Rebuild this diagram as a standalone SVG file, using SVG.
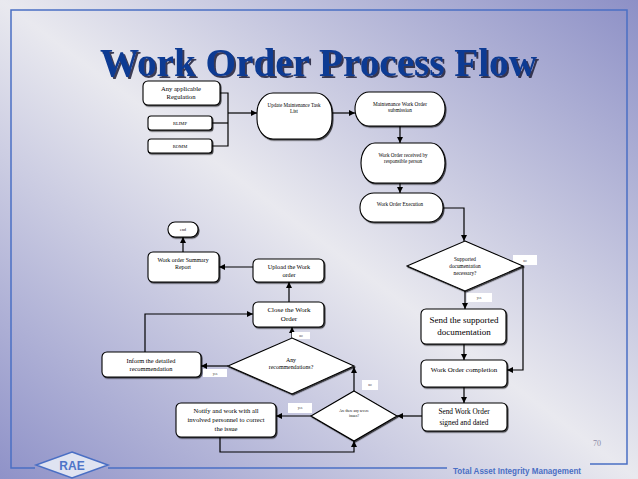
<svg xmlns="http://www.w3.org/2000/svg" width="638" height="479" viewBox="0 0 638 479">
<defs>
<linearGradient id="bg" x1="0" y1="1" x2="1" y2="0">
<stop offset="0" stop-color="#8f92c8"/>
<stop offset="0.5" stop-color="#e9e9ef"/>
<stop offset="1" stop-color="#8d90c6"/>
</linearGradient>
<marker id="ah" markerWidth="6" markerHeight="6" refX="6" refY="3" orient="auto" markerUnits="userSpaceOnUse">
<path d="M0,0 L6,3 L0,6 z" fill="#000"/>
</marker>
<filter id="sh" x="-10%" y="-10%" width="130%" height="140%">
<feDropShadow dx="1" dy="1.2" stdDeviation="0.4" flood-color="#000" flood-opacity="0.7"/>
</filter>
<filter id="tsh" x="-5%" y="-20%" width="110%" height="150%">
<feDropShadow dx="2" dy="2" stdDeviation="0.3" flood-color="#1c1c3a" flood-opacity="0.85"/>
</filter>
</defs>
<style>
.n{fill:#fff;stroke:#000;stroke-width:1.1;filter:url(#sh)}
.t{font-family:"Liberation Serif","Times New Roman",serif;fill:#000;text-anchor:middle}
.c{fill:none;stroke:#000;stroke-width:1.2}
.a{marker-end:url(#ah)}
.lb{fill:#fff;stroke:none}
.lt{font-family:"Liberation Serif",serif;font-size:3.5px;fill:#333;text-anchor:middle}
.frame{fill:none;stroke:#4a6fc4;stroke-width:1.5}
</style>
<rect width="638" height="479" fill="url(#bg)"/>
<g id="frame">
<polyline class="frame" points="35,468 11,468 11,10 627,10 627,464 590,464"/>
<line class="frame" x1="108" y1="468" x2="447" y2="468"/>
</g>
<g id="title">
<text x="100" y="76" font-family="'Liberation Serif','Times New Roman',serif" font-weight="bold" font-size="39" fill="#0c3a93" textLength="437" lengthAdjust="spacingAndGlyphs" filter="url(#tsh)">Work Order Process Flow</text>
</g>
<g id="connectors">
<polyline class="c" points="220,93 228,93 228,146 212,146"/>
<line class="c" x1="212" y1="123" x2="228" y2="123"/>
<line class="c a" x1="228" y1="113" x2="257" y2="113"/>
<line class="c a" x1="332" y1="113" x2="355" y2="113"/>
<line class="c a" x1="400" y1="126" x2="400" y2="143"/>
<line class="c a" x1="400" y1="183" x2="400" y2="193"/>
<polyline class="c a" points="443,208 464,208 464,241"/>
<polyline class="c a" points="523,266 523,370 507,370"/>
<line class="c a" x1="465" y1="291" x2="465" y2="309"/>
<line class="c a" x1="464" y1="344" x2="464" y2="360"/>
<line class="c a" x1="464" y1="387" x2="464" y2="403"/>
<line class="c a" x1="422" y1="416" x2="397" y2="416"/>
<line class="c a" x1="354" y1="391" x2="354" y2="367"/>
<line class="c a" x1="311" y1="416" x2="276" y2="416"/>
<polyline class="c a" points="220,437 220,452 354,452 354,441"/>
<line class="c a" x1="228" y1="366" x2="201" y2="366"/>
<line class="c a" x1="292" y1="338" x2="292" y2="327"/>
<polyline class="c a" points="145,352 145,314 253,314"/>
<line class="c a" x1="289" y1="302" x2="289" y2="282"/>
<line class="c a" x1="253" y1="267" x2="219" y2="267"/>
<line class="c a" x1="183" y1="252" x2="183" y2="237"/>
<rect class="lb" x="513" y="255" width="24" height="10"/><text class="lt" x="525" y="261.5">no</text>
<rect class="lb" x="467" y="293" width="25" height="9"/><text class="lt" x="479" y="299">yes</text>
<rect class="lb" x="362" y="380" width="16" height="10"/><text class="lt" x="370" y="386">no</text>
<rect class="lb" x="288" y="403" width="24" height="10"/><text class="lt" x="300" y="409">yes</text>
<rect class="lb" x="203" y="369" width="24" height="8"/><text class="lt" x="215" y="374.5">yes</text>
<rect class="lb" x="292" y="332" width="18" height="7"/><text class="lt" x="301" y="337">no</text>
</g>
<g id="n-regulation"><rect class="n" x="143" y="81" width="77" height="24" rx="5"/>
<text class="t" font-size="6.6"><tspan x="181" y="91">Any applicable</tspan><tspan x="181" y="99">Regulation</tspan></text></g>
<g id="n-rlimp"><rect class="n" x="148" y="116" width="64" height="14" rx="3"/>
<text class="t" font-size="4.6" x="180" y="124.5">RLIMP</text></g>
<g id="n-romm"><rect class="n" x="148" y="139" width="64" height="14" rx="3"/>
<text class="t" font-size="4.6" x="180" y="147.5">ROMM</text></g>
<g id="n-update"><rect class="n" x="257" y="93" width="75" height="46" rx="16" ry="20"/>
<text class="t" font-size="5.1"><tspan x="294" y="107">Update Maintenance Task</tspan><tspan x="294" y="113">List</tspan></text></g>
<g id="n-submission"><rect class="n" x="355" y="92" width="90" height="34" rx="14" ry="17"/>
<text class="t" font-size="5.3"><tspan x="400" y="106">Maintenance Work Order</tspan><tspan x="400" y="112">submission</tspan></text></g>
<g id="n-received"><rect class="n" x="361" y="143" width="84" height="40" rx="14" ry="20"/>
<text class="t" font-size="5.1"><tspan x="403" y="157">Work Order received by</tspan><tspan x="403" y="163">responsible person</tspan></text></g>
<g id="n-execution"><rect class="n" x="360" y="193" width="83" height="29" rx="14" ry="14"/>
<text class="t" font-size="5.1" x="400" y="206">Work Order Execution</text></g>
<g id="n-supported"><polygon class="n" points="465,241 523,266 465,291 407,266"/>
<text class="t" font-size="5.3"><tspan x="465" y="261">Supported</tspan><tspan x="465" y="268">documentation</tspan><tspan x="465" y="275">necessary?</tspan></text></g>
<g id="n-senddoc"><rect class="n" x="421" y="309" width="85" height="35" rx="5"/>
<text class="t" font-size="9"><tspan x="464" y="323">Send the supported</tspan><tspan x="464" y="335">documentation</tspan></text></g>
<g id="n-completion"><rect class="n" x="421" y="360" width="86" height="27" rx="5"/>
<text class="t" font-size="7" x="464" y="372">Work Order completion</text></g>
<g id="n-signed"><rect class="n" x="422" y="403" width="85" height="28" rx="5"/>
<text class="t" font-size="7.3"><tspan x="464" y="414">Send Work Order</tspan><tspan x="464" y="425">signed and dated</tspan></text></g>
<g id="n-severe"><polygon class="n" points="354,391 397,416 354,441 311,416"/>
<text class="t" font-size="3.6"><tspan x="354" y="412">Are there any severe</tspan><tspan x="354" y="417">issues?</tspan></text></g>
<g id="n-notify"><rect class="n" x="176" y="403" width="100" height="34" rx="5"/>
<text class="t" font-size="6.6"><tspan x="226" y="413">Notify and work with all</tspan><tspan x="226" y="422">involved personnel to correct</tspan><tspan x="226" y="431">the issue</tspan></text></g>
<g id="n-anyrec"><polygon class="n" points="292,338 354,366 292,394 228,366"/>
<text class="t" font-size="5.9"><tspan x="291" y="362">Any</tspan><tspan x="291" y="369">recommendations?</tspan></text></g>
<g id="n-inform"><rect class="n" x="102" y="352" width="99" height="25" rx="5"/>
<text class="t" font-size="6.4"><tspan x="151" y="363">Inform the detailed</tspan><tspan x="151" y="371">recommendation</tspan></text></g>
<g id="n-close"><rect class="n" x="253" y="302" width="71" height="25" rx="5"/>
<text class="t" font-size="7"><tspan x="289" y="312">Close the Work</tspan><tspan x="289" y="321">Order</tspan></text></g>
<g id="n-upload"><rect class="n" x="253" y="259" width="71" height="23" rx="5"/>
<text class="t" font-size="6.2"><tspan x="289" y="269">Upload the Work</tspan><tspan x="289" y="277">order</tspan></text></g>
<g id="n-summary"><rect class="n" x="148" y="252" width="71" height="30" rx="5"/>
<text class="t" font-size="5.9"><tspan x="183" y="262">Work order Summary</tspan><tspan x="183" y="269">Report</tspan></text></g>
<g id="n-end"><rect class="n" x="168" y="222" width="30" height="15" rx="7"/>
<text class="t" font-size="4" x="183" y="231">end</text></g>
<g id="footer">
<polygon points="72,452 108,465 72,478 36,465" fill="#dfe3f1" stroke="#4a6fc4" stroke-width="1.5"/>
<text x="72" y="469.5" font-family="'Liberation Sans',Arial,sans-serif" font-weight="bold" font-size="12" fill="#4f74c8" text-anchor="middle">RAE</text>
<text x="453" y="474" font-family="'Liberation Sans',Arial,sans-serif" font-weight="bold" font-size="8.6" fill="#4a6fc4" textLength="128" lengthAdjust="spacingAndGlyphs">Total Asset Integrity Management</text>
<text x="597" y="446" font-family="'Liberation Serif',serif" font-size="8" fill="#8a8aa6" text-anchor="middle">70</text>
</g>
</svg>
